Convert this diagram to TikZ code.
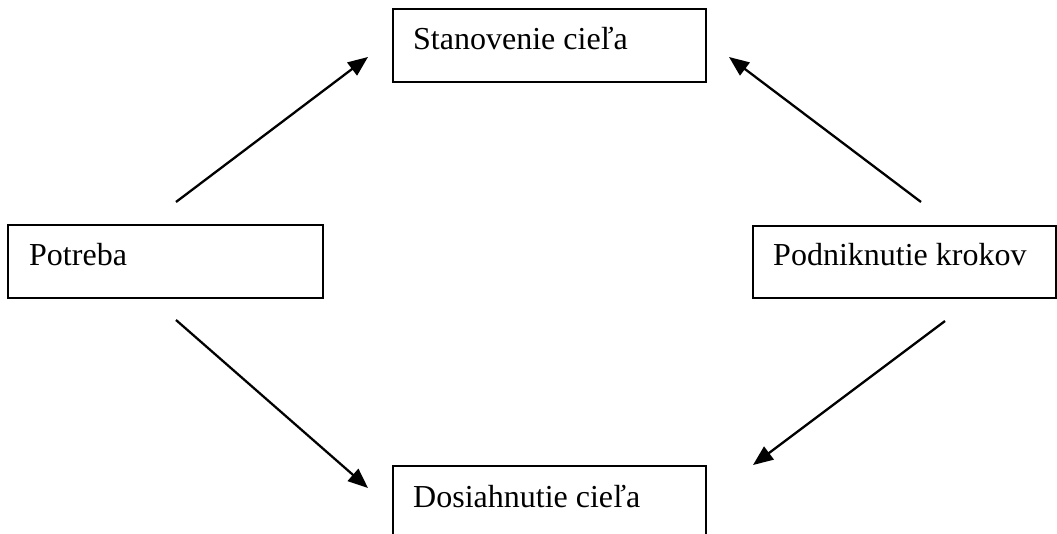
\documentclass[tikz,border=0pt]{standalone}
\usepackage{fontspec}
\setmainfont{Liberation Serif}
\usetikzlibrary{arrows.meta}
\begin{document}
\begin{tikzpicture}[x=1pt,y=-1pt,
  boxline/.style={draw=black, line width=2.4pt},
  lbl/.style={anchor=base west, inner sep=0pt, font=\fontsize{32}{38}\selectfont},
  arr/.style={line width=2.3pt, -{Triangle[length=20pt,width=16pt]}}]
\useasboundingbox (0,0) rectangle (1057,534);
\clip (0,0) rectangle (1057,534);
% boxes
\node[boxline, minimum width=313pt, minimum height=73pt, anchor=north west, inner sep=0pt] (stan) at (392,8) {};
\node[boxline, minimum width=315pt, minimum height=73pt, anchor=north west, inner sep=0pt] (potr) at (7,224) {};
\node[boxline, minimum width=303pt, minimum height=72pt, anchor=north west, inner sep=0pt] (podn) at (752,225) {};
\node[boxline, minimum width=313pt, minimum height=100pt, anchor=north west, inner sep=0pt] (dosi) at (392,465) {};
% labels
\node[lbl] (tstan) at (413,50) {Stanovenie cieľa};
\node[lbl] (tpotr) at (29,266) {Potreba};
\node[lbl] (tpodn) at (773,266) {Podniknutie krokov};
\node[lbl] (tdosi) at (413,507) {Dosiahnutie cieľa};
% arrow ends
\coordinate (a1s) at (176,202); \coordinate (a1e) at (368,57);
\coordinate (a2s) at (921,202); \coordinate (a2e) at (729,57);
\coordinate (a3s) at (176,320); \coordinate (a3e) at (368,488);
\coordinate (a4s) at (945,321); \coordinate (a4e) at (753,465);
\draw[arr] (a1s) -- (a1e);
\draw[arr] (a2s) -- (a2e);
\draw[arr] (a3s) -- (a3e);
\draw[arr] (a4s) -- (a4e);
\end{tikzpicture}
\end{document}
